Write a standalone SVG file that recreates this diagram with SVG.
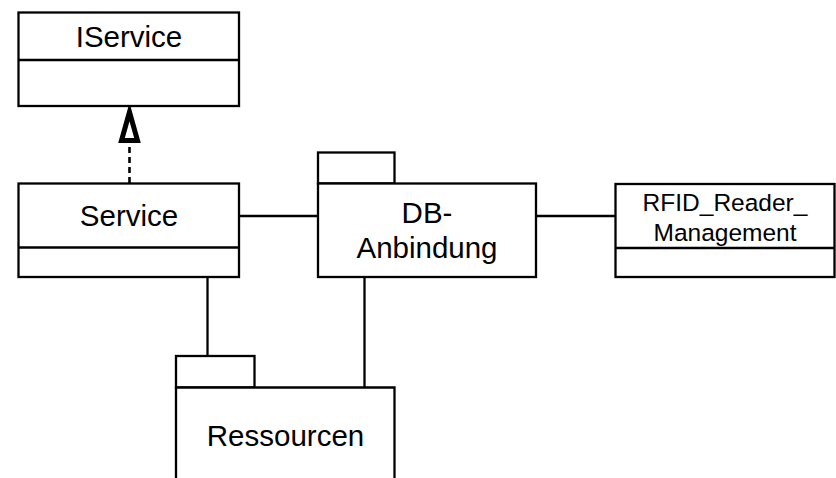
<svg xmlns="http://www.w3.org/2000/svg" width="836" height="478" viewBox="0 0 836 478">
<style>
.box{fill:#fff;stroke:#000;stroke-width:2.3}
.ln{fill:none;stroke:#000;stroke-width:2.3}
.t{font-family:"Liberation Sans",Arial,sans-serif;font-size:29.5px;fill:#000;text-anchor:middle}
.ts{font-family:"Liberation Sans",Arial,sans-serif;font-size:24.5px;fill:#000;text-anchor:middle}
</style>
<rect width="836" height="478" fill="#fff"/>
<g id="connectors">
<path d="M129.5,183 V143" fill="none" stroke="#000" stroke-width="2.6" stroke-dasharray="6,4"/>
<polygon points="129.5,112 121.5,140.5 137.5,140.5" fill="#fff" stroke="#000" stroke-width="5" stroke-linejoin="miter"/>
<path class="ln" d="M239,216 H318"/>
<path class="ln" d="M536,216 H615"/>
<path class="ln" d="M207.5,277 V356"/>
<path class="ln" d="M364.5,277 V388"/>
</g>
<g id="IService">
<rect class="box" x="18.5" y="12.5" width="220.5" height="93.5"/>
<path class="ln" d="M18.5,60 H239"/>
<text class="t" x="129" y="47">IService</text>
</g>
<g id="Service">
<rect class="box" x="18.5" y="183.5" width="220.5" height="93.5"/>
<path class="ln" d="M18.5,247.5 H239"/>
<text class="t" x="129" y="225.5">Service</text>
</g>
<g id="DB-Anbindung">
<rect class="box" x="318" y="152.5" width="76.5" height="31"/>
<rect class="box" x="318" y="183.5" width="218" height="93.5"/>
<text class="t" x="427" y="223">DB-</text>
<text class="t" x="427" y="258">Anbindung</text>
</g>
<g id="RFID_Reader_Management">
<rect class="box" x="615.5" y="184" width="219" height="93"/>
<path class="ln" d="M615.5,248 H834.5"/>
<text class="ts" x="725" y="211">RFID_Reader_</text>
<text class="ts" x="725" y="240.5">Management</text>
</g>
<g id="Ressourcen">
<rect class="box" x="176" y="356" width="78.5" height="31.5"/>
<path class="box" d="M176,490 V387.5 H394.5 V490"/>
<text class="t" x="285.5" y="445.5">Ressourcen</text>
</g>
</svg>
